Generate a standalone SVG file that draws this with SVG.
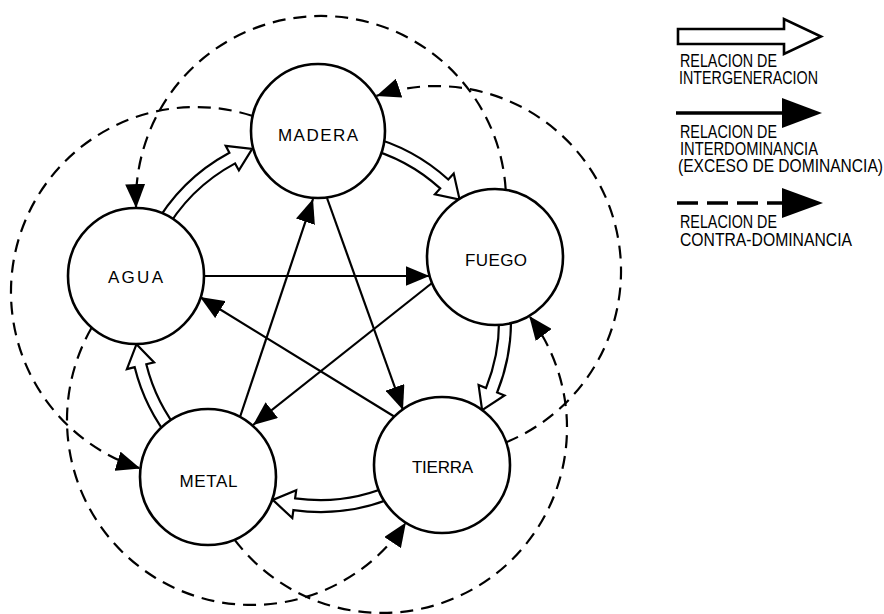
<svg xmlns="http://www.w3.org/2000/svg" width="884" height="614" viewBox="0 0 884 614">
<defs>
<style>
.node circle{fill:#fff;stroke:#000;stroke-width:2.6}
.lbl{font-family:"Liberation Sans Narrow","Liberation Sans",Arial,sans-serif;font-size:17px;fill:#000;text-anchor:middle}
.leg{font-family:"Liberation Sans Narrow","Liberation Sans",Arial,sans-serif;font-size:19px;fill:#000}
.solid{fill:none;stroke:#000;stroke-width:2.2}
.dash{fill:none;stroke:#000;stroke-width:2.2;stroke-dasharray:13 8}
.hollow{fill:#fff;stroke:#000;stroke-width:2.2;stroke-linejoin:miter}
</style>
<marker id="ah" viewBox="0 0 24 20" refX="24" refY="10" markerWidth="24" markerHeight="20" markerUnits="userSpaceOnUse" orient="auto">
<path d="M0,0 L24,10 L0,20 Z" fill="#000"/>
</marker>
</defs>
<rect width="884" height="614" fill="#fff"/>
<g id="connectors">
<!-- intergeneracion (hollow) -->
<path class="hollow" d="M367.5,136.0 A191,191 0 0 1 448.3,179.5 L453.7,173.6 L459.6,199.6 L434.9,194.3 L440.2,188.4 A179,179 0 0 0 364.5,147.6 Z"/>
<path class="hollow" d="M510.2,304.0 A191,191 0 0 1 497.1,392.5 L504.5,395.5 L482.1,410.1 L478.6,385.1 L486.0,388.1 A179,179 0 0 0 498.3,305.1 Z"/>
<path class="hollow" d="M401.6,493.7 A191,191 0 0 1 293.4,510.1 L292.3,518.1 L272.8,499.9 L296.2,490.3 L295.1,498.3 A179,179 0 0 0 396.5,482.8 Z"/>
<path class="hollow" d="M172.2,442.0 A191,191 0 0 1 134.7,367.2 L126.9,369.1 L136.5,344.2 L154.1,362.4 L146.3,364.3 A179,179 0 0 0 181.5,434.4 Z"/>
<path class="hollow" d="M152.5,229.3 A191,191 0 0 1 229.4,152.8 L225.7,145.8 L252.2,148.9 L238.9,170.4 L235.1,163.4 A179,179 0 0 0 163.0,235.0 Z"/>
<!-- interdominancia (solid) -->
<path class="solid" marker-end="url(#ah)" d="M204,276 L429.5,276"/>
<path class="solid" marker-end="url(#ah)" d="M432,283 L253,425"/>
<path class="solid" marker-end="url(#ah)" d="M240,417 L313,199"/>
<path class="solid" marker-end="url(#ah)" d="M327,198 L403,410"/>
<path class="solid" marker-end="url(#ah)" d="M395,417 L200,297"/>
<!-- contra-dominancia (dashed) -->
<path class="dash" marker-end="url(#ah)" d="M505.7,189.7 A185,185 0 0 0 311.8,16.2 A185,185 0 0 0 136.1,208.1"/>
<path class="dash" marker-end="url(#ah)" d="M251.9,115.7 A185,185 0 0 0 19.6,236.1 A185,185 0 0 0 140.4,468.4"/>
<path class="dash" marker-end="url(#ah)" d="M91.6,327.8 A185,185 0 0 0 154.5,577.2 A185,185 0 0 0 405.9,522.6"/>
<path class="dash" marker-end="url(#ah)" d="M234.5,539.6 A185,185 0 0 0 493.9,575.3 A185,185 0 0 0 529.2,315.9"/>
<path class="dash" marker-end="url(#ah)" d="M506.2,442.2 A185,185 0 0 0 609.3,206.2 A185,185 0 0 0 376.4,95.9"/>
</g>
<g id="madera" class="node"><circle cx="318" cy="131" r="67"/><text class="lbl" x="318" y="141" textLength="80">MADERA</text></g>
<g id="agua" class="node"><circle cx="136" cy="276" r="68"/><text class="lbl" x="135.5" y="283" textLength="55">AGUA</text></g>
<g id="fuego" class="node"><circle cx="495" cy="257" r="68"/><text class="lbl" x="496" y="266" textLength="62">FUEGO</text></g>
<g id="metal" class="node"><circle cx="208" cy="477" r="68"/><text class="lbl" x="208.5" y="487" textLength="58">METAL</text></g>
<g id="tierra" class="node"><circle cx="442" cy="465" r="68"/><text class="lbl" x="442.5" y="473" textLength="61">TIERRA</text></g>
<g id="legend">
<path d="M678,29 L784,29 L784,19 L821,36.5 L784,54 L784,44 L678,44 Z" fill="#fff" stroke="#000" stroke-width="2.6"/>
<text class="leg" x="680" y="67" textLength="97" lengthAdjust="spacingAndGlyphs">RELACION DE</text>
<text class="leg" x="679" y="84" textLength="139" lengthAdjust="spacingAndGlyphs">INTERGENERACION</text>
<line x1="676" y1="113" x2="784" y2="113" stroke="#000" stroke-width="3.5"/>
<path d="M782,98 L822,113 L782,128 Z" fill="#000"/>
<text class="leg" x="680" y="138" textLength="97" lengthAdjust="spacingAndGlyphs">RELACION DE</text>
<text class="leg" x="680" y="155" textLength="138" lengthAdjust="spacingAndGlyphs">INTERDOMINANCIA</text>
<text class="leg" x="678" y="172" textLength="205" lengthAdjust="spacingAndGlyphs">(EXCESO DE DOMINANCIA)</text>
<line x1="677" y1="203" x2="784" y2="203" stroke="#000" stroke-width="3.5" stroke-dasharray="21 9"/>
<path d="M782,188 L823,203 L782,218 Z" fill="#000"/>
<text class="leg" x="680" y="228" textLength="97" lengthAdjust="spacingAndGlyphs">RELACION DE</text>
<text class="leg" x="680" y="246" textLength="172" lengthAdjust="spacingAndGlyphs">CONTRA-DOMINANCIA</text>
</g>
</svg>
